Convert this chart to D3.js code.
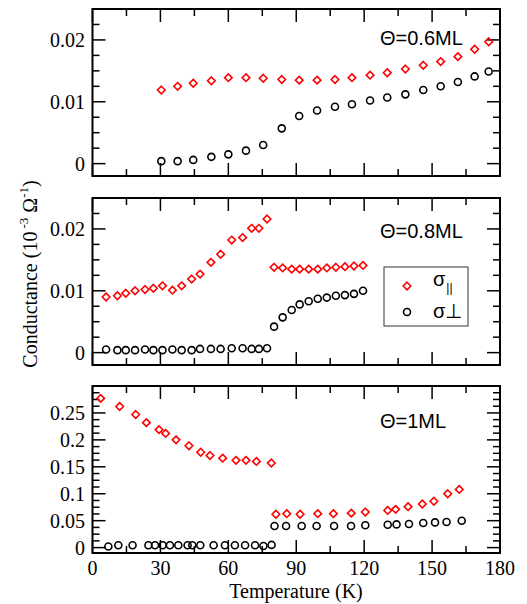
<!DOCTYPE html>
<html><head><meta charset="utf-8">
<script src="https://cdn.jsdelivr.net/npm/d3@7"></script>
<style>body{margin:0;background:#fff}</style>
</head><body>
<script>
// ---- data ----
const panelLabels = ["Θ=0.6ML", "Θ=0.8ML", "Θ=1ML"];
const xTickLabels = [0, 30, 60, 90, 120, 150, 180];
const yTicks12 = [0, 0.01, 0.02];
const yTicks3 = [0, 0.05, 0.1, 0.15, 0.2, 0.25];

// panel 1 (0.6 ML)
const T1 = [30.4, 37.6, 44.5, 52.5, 60.0, 67.8, 75.4, 83.6, 91.3, 99.2, 107.1, 114.6, 122.6, 130.2, 138.2, 146.1, 153.8, 161.4, 168.8, 175.0];
const par1 = [0.0119, 0.0125, 0.0130, 0.0134, 0.0139, 0.0139, 0.0138, 0.0136, 0.0135, 0.0135, 0.0136, 0.0139, 0.0143, 0.0147, 0.0153, 0.0159, 0.0165, 0.0173, 0.0185, 0.0197];
const perp1 = [0.0004, 0.0004, 0.0006, 0.0011, 0.0015, 0.0021, 0.0030, 0.0057, 0.0077, 0.0086, 0.0092, 0.0096, 0.0102, 0.0107, 0.0112, 0.0119, 0.0125, 0.0132, 0.0141, 0.0149];

// panel 2 (0.8 ML)
const T2 = [6.0, 11.0, 14.7, 18.8, 23.2, 26.9, 30.9, 35.3, 39.4, 43.8, 47.5, 52.3, 56.6, 61.5, 66.3, 70.3, 73.5, 77.1, 80.2, 84.0, 88.0, 91.5, 95.5, 99.5, 103.5, 107.5, 111.5, 115.5, 119.5];
const par2 = [0.0090, 0.0092, 0.0096, 0.0100, 0.0102, 0.0104, 0.0108, 0.0101, 0.0108, 0.0119, 0.0127, 0.0146, 0.0159, 0.0182, 0.0186, 0.0201, 0.0201, 0.0216, 0.0138, 0.0137, 0.0135, 0.0135, 0.0135, 0.0135, 0.0137, 0.0138, 0.0139, 0.0140, 0.0141];
const perp2 = [0.0005, 0.0004, 0.0004, 0.0004, 0.0005, 0.0004, 0.0004, 0.0005, 0.0004, 0.0004, 0.0006, 0.0006, 0.0006, 0.0007, 0.0007, 0.0006, 0.0006, 0.0007, 0.0042, 0.0057, 0.0069, 0.0078, 0.0083, 0.0087, 0.0089, 0.0092, 0.0093, 0.0095, 0.0100];

// panel 3 (1 ML)
const T3par = [3.6, 12.0, 19.1, 23.8, 29.4, 32.3, 36.9, 42.6, 47.8, 51.9, 57.5, 63.4, 67.8, 72.4, 79.0, 81.0, 85.8, 91.7, 99.5, 106.4, 114.3, 120.5, 130.4, 133.9, 139.4, 145.7, 150.8, 156.9, 162.0];
const par3 = [0.277, 0.262, 0.247, 0.232, 0.219, 0.212, 0.200, 0.189, 0.177, 0.171, 0.166, 0.162, 0.162, 0.160, 0.157, 0.062, 0.063, 0.062, 0.063, 0.063, 0.064, 0.066, 0.069, 0.071, 0.076, 0.081, 0.086, 0.100, 0.108];
const T3perp = [7.0, 11.4, 17.7, 24.7, 27.6, 31.0, 34.2, 37.9, 42.0, 44.1, 47.6, 53.5, 58.5, 62.9, 67.4, 71.8, 75.5, 79.1, 80.4, 85.5, 92.4, 99.0, 106.7, 114.2, 120.5, 130.4, 134.3, 139.8, 146.1, 151.3, 156.4, 163.1];
const perp3 = [0.002, 0.0045, 0.0045, 0.0045, 0.0045, 0.0045, 0.0045, 0.0045, 0.0045, 0.0045, 0.0045, 0.0045, 0.0045, 0.0045, 0.0045, 0.0045, 0.003, 0.005, 0.040, 0.040, 0.040, 0.040, 0.040, 0.040, 0.0415, 0.0425, 0.0431, 0.0437, 0.0456, 0.0468, 0.0475, 0.050];

// ---- layout ----
const W = 527, H = 604;
const left = 92.5, right = 500;
const ph = 167;
const tops = [9, 198, 386];

const svg = d3.select("body").append("svg").attr("width", W).attr("height", H);
const x = d3.scaleLinear().domain([0, 180]).range([left, right]);

const panels = [
  {T: T1, par: par1, Tp: T1, perp: perp1, dom: [-0.002, 0.025], major: yTicks12, minorStep: 0.0025, lab: panelLabels[0], labY: 45},
  {T: T2, par: par2, Tp: T2, perp: perp2, dom: [-0.002, 0.025], major: yTicks12, minorStep: 0.0025, lab: panelLabels[1], labY: 238},
  {T: T3par, par: par3, Tp: T3perp, perp: perp3, dom: [-0.01, 0.3], major: yTicks3, minorStep: 0.0125, lab: panelLabels[2], labY: 428}
];

const serif = "'Liberation Serif','Times New Roman',serif";
const sans = "'Liberation Sans',Arial,sans-serif";
const MAJ = 13, MIN = 7;

function diamond(r){ return `M0,${-r}L${r},0L0,${r}L${-r},0Z`; }

panels.forEach((p, i) => {
  const top = tops[i], bot = top + ph;
  const y = d3.scaleLinear().domain(p.dom).range([bot, top]);
  const g = svg.append("g");

  // minor / major y ticks
  const yMinor = d3.range(Math.ceil(p.dom[0] / p.minorStep), Math.floor(p.dom[1] / p.minorStep) + 1).map(k => +(k * p.minorStep).toFixed(6));
  yMinor.forEach(v => {
    const isMaj = p.major.some(m => Math.abs(m - v) < 1e-9) ;
    const len = (Math.abs(v / (p.minorStep*4) - Math.round(v / (p.minorStep*4))) < 1e-6) ? MAJ : MIN;
    const yy = y(v);
    g.append("line").attr("x1", left).attr("x2", left + len).attr("y1", yy).attr("y2", yy).attr("stroke", "#000").attr("stroke-width", 1.5);
    g.append("line").attr("x1", right).attr("x2", right - len).attr("y1", yy).attr("y2", yy).attr("stroke", "#000").attr("stroke-width", 1.5);
  });
  // x ticks
  d3.range(0, 181, 15).forEach(v => {
    const len = v % 30 === 0 ? MAJ : MIN;
    const xx = x(v);
    g.append("line").attr("x1", xx).attr("x2", xx).attr("y1", bot).attr("y2", bot - len).attr("stroke", "#000").attr("stroke-width", 1.5);
    g.append("line").attr("x1", xx).attr("x2", xx).attr("y1", top).attr("y2", top + len).attr("stroke", "#000").attr("stroke-width", 1.5);
  });
  // y tick labels
  p.major.forEach(v => {
    g.append("text").attr("x", left - 7.5).attr("y", y(v)).attr("dy", "0.35em")
      .attr("text-anchor", "end").attr("font-family", serif).attr("font-size", 20).text(String(v));
  });
  // frame
  g.append("rect").attr("x", left).attr("y", top).attr("width", right - left).attr("height", ph)
    .attr("fill", "none").attr("stroke", "#000").attr("stroke-width", 2);

  // perpendicular: circles
  g.selectAll("circle.perp").data(p.Tp.map((t, k) => [t, p.perp[k]])).enter().append("circle")
    .attr("cx", d => x(d[0])).attr("cy", d => y(d[1])).attr("r", 3.5)
    .attr("fill", "none").attr("stroke", "#000").attr("stroke-width", 1.6);
  // parallel: diamonds
  g.selectAll("path.par").data(p.T.map((t, k) => [t, p.par[k]])).enter().append("path")
    .attr("d", diamond(3.8)).attr("transform", d => `translate(${x(d[0])},${y(d[1])})`)
    .attr("fill", "none").attr("stroke", "#ff0000").attr("stroke-width", 1.6);

  // panel label
  g.append("text").attr("x", 380).attr("y", p.labY).attr("font-family", sans).attr("font-size", 20).text(p.lab);

  if (i === 2) {
    xTickLabels.forEach(v => {
      g.append("text").attr("x", x(v)).attr("y", 575).attr("text-anchor", "middle")
        .attr("font-family", serif).attr("font-size", 20).text(String(v));
    });
  }
});

// axis titles
svg.append("text").attr("x", 296).attr("y", 597.5).attr("text-anchor", "middle")
  .attr("font-family", serif).attr("font-size", 20).text("Temperature (K)");

const yt = svg.append("text").attr("transform", "translate(37,274) rotate(-90)").attr("text-anchor", "middle")
  .attr("font-family", serif).attr("font-size", 20);
yt.append("tspan").text("Conductance (10");
yt.append("tspan").attr("font-size", 13).attr("dy", -9).attr("dx", 3).text("-3");
yt.append("tspan").attr("dy", 9).text(" Ω");
yt.append("tspan").attr("font-size", 13).attr("dy", -9).text("-1");
yt.append("tspan").attr("dy", 9).text(")");

// legend
const lg = svg.append("g");
lg.append("rect").attr("x", 384).attr("y", 267).attr("width", 84).attr("height", 59)
  .attr("fill", "#fff").attr("stroke", "#333").attr("stroke-width", 1);
lg.append("path").attr("d", diamond(3.8)).attr("transform", "translate(407,286)")
  .attr("fill", "none").attr("stroke", "#ff0000").attr("stroke-width", 1.6);
lg.append("circle").attr("cx", 407).attr("cy", 312).attr("r", 3.5)
  .attr("fill", "none").attr("stroke", "#000").attr("stroke-width", 1.6);
const t1 = lg.append("text").attr("x", 433).attr("y", 286).attr("font-family", sans).attr("font-size", 20);
t1.append("tspan").text("σ");
t1.append("tspan").attr("font-size", 12).attr("dy", 6).attr("dx", 1).text("||");
lg.append("text").attr("x", 433).attr("y", 318).attr("font-family", sans).attr("font-size", 20).text("σ⊥");
</script>
</body></html>
